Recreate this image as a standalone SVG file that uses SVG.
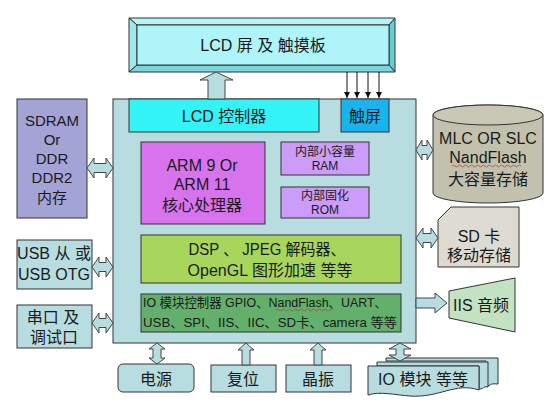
<svg xmlns="http://www.w3.org/2000/svg" width="560" height="414" viewBox="0 0 560 414">
<style>
.box{stroke:#333;stroke-width:1}
.t{font-family:"Liberation Sans","Noto Sans CJK SC",sans-serif;fill:#1a1a1a;text-anchor:middle;font-size:16px}
.s12{font-size:12px}
.s13{font-size:13px}
.s15{font-size:15px}
.arr{fill:#b8dde1;stroke:#444;stroke-width:1}
.sq{fill:none;stroke:#e03030;stroke-width:0.8}
</style>
<defs>
<marker id="ah" viewBox="0 0 10 10" refX="10" refY="5" markerWidth="6" markerHeight="6" orient="auto" markerUnits="userSpaceOnUse">
<path d="M0,0 L10,5 L0,10 Z" fill="#111"/>
</marker>
</defs>
<rect width="560" height="414" fill="#fff"/>

<g id="lcd-screen">
<polygon points="129,18 395,18 389,25 137,25" fill="#b5f5f8" class="box"/>
<polygon points="129,18 137,25 137,65 129,72" fill="#9fe9ee" class="box"/>
<polygon points="395,18 395,72 389,65 389,25" fill="#66cdd3" class="box"/>
<polygon points="129,72 137,65 389,65 395,72" fill="#7ad6dc" class="box"/>
<rect x="137" y="25" width="252" height="40" fill="#aef4f8" class="box"/>
<text class="t" x="263" y="51">LCD 屏 及 触摸板</text>
</g>

<g id="main-soc">
<rect x="113" y="99" width="303" height="244" fill="#b8dde1" class="box"/>
</g>
<g id="lcd-controller">
<rect x="129" y="99" width="190" height="33" fill="#33f3f7" class="box"/>
<text class="t" x="224" y="122">LCD 控制器</text>
</g>
<g id="touch">
<rect x="341" y="99" width="48" height="33" fill="#19b4ee" class="box"/>
<text class="t" x="365" y="122">触屏</text>
</g>
<g id="arm">
<rect x="141" y="142" width="124" height="82" fill="#d873ee" class="box"/>
<text class="t" x="202" y="171">ARM 9 Or</text>
<text class="t" x="202" y="190">ARM 11</text>
<text class="t" x="202" y="211">核心处理器</text>
</g>
<g id="ram">
<rect x="281" y="142" width="88" height="33" fill="#cc9cfa" class="box"/>
<text class="t s12" x="325" y="156">内部小容量</text>
<text class="t s12" x="325" y="170">RAM</text>
</g>
<g id="rom">
<rect x="281" y="187" width="88" height="31" fill="#cc9cfa" class="box"/>
<text class="t s12" x="325" y="200">内部固化</text>
<text class="t s12" x="325" y="214">ROM</text>
</g>
<g id="dsp">
<rect x="141" y="235" width="260" height="48" fill="#a8d65c" class="box"/>
<text class="t" x="267" y="255" textLength="157" lengthAdjust="spacingAndGlyphs">DSP 、 JPEG 解码器、</text>
<text class="t" x="270" y="276">OpenGL 图形加速 等等</text>
</g>
<g id="io-ctrl">
<rect x="141" y="294" width="260" height="38" fill="#63b06c" class="box"/>
<text class="t s13" x="265" y="307" textLength="244" lengthAdjust="spacingAndGlyphs">IO 模块控制器 GPIO、NandFlash、UART、</text>
<text class="t s13" x="270" y="327" textLength="254" lengthAdjust="spacingAndGlyphs">USB、SPI、IIS、IIC、SD卡、camera 等等</text>
<path class="sq" d="M276,310 q1.5,-2 3,0 t3,0 t3,0 t3,0 t3,0 t3,0 t3,0 t3,0 t3,0 t3,0 t3,0 t3,0 t3,0 t3,0 t3,0 t3,0 t3,0 t3,0 t3,0"/>
</g>

<g id="sdram">
<rect x="17" y="99" width="70" height="119" fill="#a3a3d6" class="box"/>
<text class="t s15" x="52" y="126">SDRAM</text>
<text class="t s15" x="52" y="145">Or</text>
<text class="t s15" x="52" y="164">DDR</text>
<text class="t s15" x="52" y="183">DDR2</text>
<text class="t s15" x="52" y="203">内存</text>
</g>
<g id="usb">
<rect x="17" y="240" width="75" height="49" fill="#b8dde1" class="box"/>
<text class="t" x="54" y="259">USB 从 或</text>
<text class="t" x="54" y="280">USB OTG</text>
</g>
<g id="uart">
<rect x="17" y="305" width="75" height="43" fill="#b8dde1" class="box"/>
<text class="t" x="53" y="323">串口 及</text>
<text class="t" x="54" y="343">调试口</text>
</g>

<g id="nand">
<path d="M433,115 A55,10 0 0 1 543,115 V193 A55,10 0 0 1 433,193 Z" fill="#c2c1ae" class="box"/>
<ellipse cx="488" cy="115" rx="55" ry="10" fill="#c9c8b6" class="box"/>
<text class="t" x="488" y="144">MLC OR SLC</text>
<text class="t" x="488" y="163">NandFlash</text>
<path class="sq" d="M452,166 q1.5,-2 3,0 t3,0 t3,0 t3,0 t3,0 t3,0 t3,0 t3,0 t3,0 t3,0 t3,0 t3,0 t3,0 t3,0 t3,0 t3,0 t3,0 t3,0 t3,0 t3,0 t3,0 t3,0 t3,0"/>
<text class="t" x="488" y="185">大容量存储</text>
</g>
<g id="sd">
<path d="M451,207 H519 V267 H438 V220 Z" fill="#dedcd2" class="box"/>
<text class="t" x="479" y="242">SD 卡</text>
<text class="t" x="479" y="261">移动存储</text>
</g>
<g id="iis">
<path d="M449,291 L515,278 L515,332 L449,318 Z" fill="#c2e2c2" class="box"/>
<text class="t" x="481" y="311">IIS 音频</text>
</g>

<g id="power">
<rect x="118" y="364" width="76" height="28" rx="5" fill="#b8dde1" class="box"/>
<text class="t" x="156" y="385">电源</text>
</g>
<g id="reset">
<rect x="211" y="365" width="65" height="27" fill="#b8dde1" class="box"/>
<text class="t" x="243" y="385">复位</text>
</g>
<g id="osc">
<rect x="286" y="365" width="65" height="27" fill="#b8dde1" class="box"/>
<text class="t" x="318" y="385">晶振</text>
</g>
<g id="io-modules">
<path d="M386,358 H498 V384 C488,383 492,386 486,386 V361 H386 Z" fill="#b8dde1" class="box"/>
<path d="M377,362 H488 V387 C482,386 485,389 479,389 V366 H377 Z" fill="#b8dde1" class="box"/>
<path d="M368,366 H479 V390 C455,382 440,398 410,396 C395,395 380,391 368,395 Z" fill="#b8dde1" class="box"/>
<text class="t" x="423" y="385">IO 模块 等等</text>
</g>

<g id="connectors">
<path class="arr" d="M216,72 L233,80 L225,80 L225,99 L208,99 L208,80 L200,80 Z"/>
<g stroke="#111" stroke-width="1" marker-end="url(#ah)">
<line x1="347" y1="72" x2="347" y2="98"/>
<line x1="357" y1="72" x2="357" y2="98"/>
<line x1="368" y1="72" x2="368" y2="98"/>
<line x1="379" y1="72" x2="379" y2="98"/>
</g>
<path class="arr" d="M87,168 L94,158 L94,163.5 L106,163.5 L106,158 L113,168 L106,178 L106,172.5 L94,172.5 L94,178 Z"/>
<path class="arr" d="M92,267 L99,257 L99,262.5 L106,262.5 L106,257 L113,267 L106,277 L106,271.5 L99,271.5 L99,277 Z"/>
<path class="arr" d="M92,323 L99,313 L99,318.5 L106,318.5 L106,313 L113,323 L106,333 L106,327.5 L99,327.5 L99,333 Z"/>
<path class="arr" d="M416,150 L422,140 L422,145.5 L427,145.5 L427,140 L433,150 L427,160 L427,154.5 L422,154.5 L422,160 Z"/>
<path class="arr" d="M416,238 L423,228 L423,233.5 L431,233.5 L431,228 L438,238 L431,248 L431,242.5 L423,242.5 L423,248 Z"/>
<path class="arr" d="M416,298 L435,298 L435,293 L447,303 L435,313 L435,308 L416,308 Z"/>
<path class="arr" d="M157,343 L165,349 L161,349 L161,358 L165,358 L157,364 L149,358 L153,358 L153,349 L149,349 Z"/>
<path class="arr" d="M246,343 L254,350 L250,350 L250,365 L242,365 L242,350 L238,350 Z"/>
<path class="arr" d="M318,343 L326,350 L322,350 L322,365 L314,365 L314,350 L310,350 Z"/>
<path class="arr" d="M400,343 L411,349 L404,349 L404,355 L411,355 L400,361 L389,355 L396,355 L396,349 L389,349 Z"/>
</g>
</svg>
